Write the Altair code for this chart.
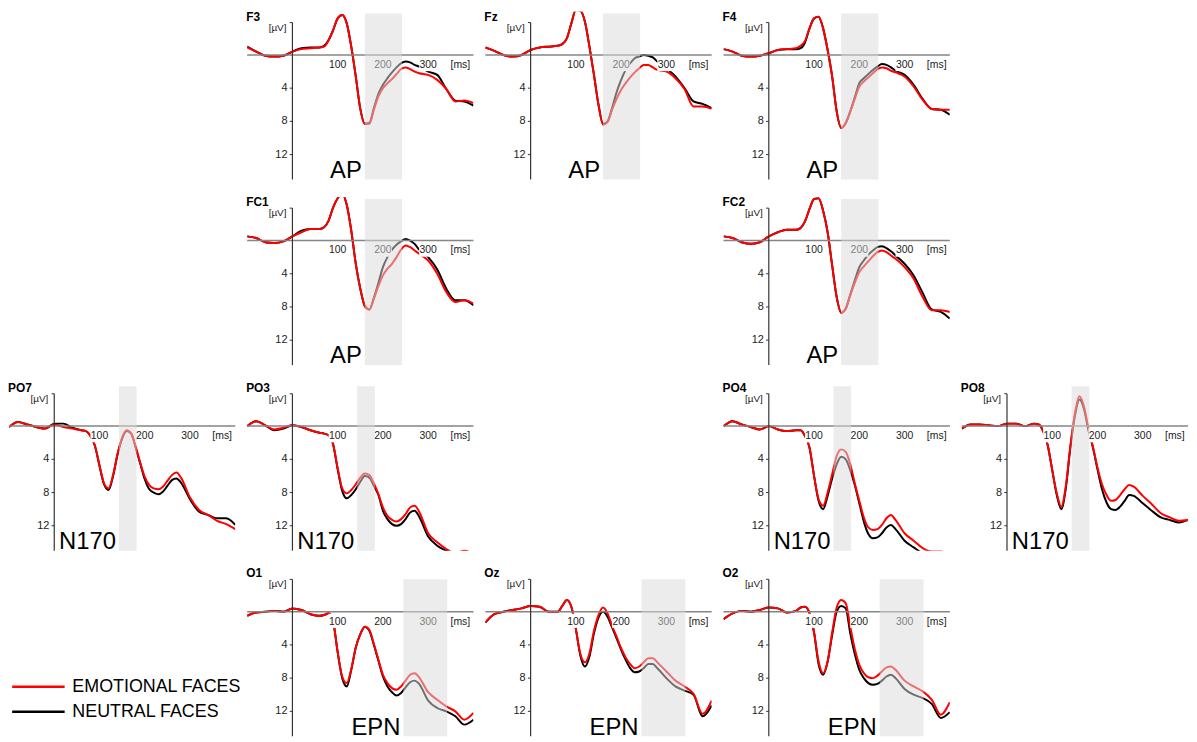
import altair as alt
import pandas as pd

# ---------------- data ----------------
T = [-100, -80, -60, -40, -20, 0, 20, 40, 60, 70, 80, 90, 100, 110, 120, 130, 140, 150,
     160, 170, 180, 190, 200, 210, 220, 230, 240, 250, 260, 270, 280, 300, 320, 340, 360, 380, 400]

F3_neutral = [-1.0, -0.4, 0.1, 0.2, 0.1, -0.4, -0.8, -0.9, -0.9, -1.1, -1.8, -3.0, -4.4, -4.8, -3.8, -1.0, 2.6, 6.5,
              8.3, 8.2, 6.4, 4.7, 3.6, 2.8, 2.1, 1.5, 1.0, 0.8, 0.9, 1.2, 1.4, 2.0, 2.4, 4.1, 5.5, 5.6, 6.1]
F3_emotional = [-0.9, -0.4, 0.1, 0.2, 0.1, -0.4, -0.7, -0.8, -0.9, -1.0, -1.8, -3.0, -4.4, -4.8, -3.8, -1.0, 2.6, 6.5,
                8.3, 8.3, 6.6, 5.0, 4.0, 3.4, 2.9, 2.3, 1.7, 1.5, 1.7, 2.0, 2.2, 2.4, 3.0, 4.1, 5.6, 5.5, 5.8]

Fz_neutral = [-0.9, -0.5, 0.0, 0.2, 0.0, -0.6, -0.9, -1.0, -1.1, -1.3, -2.0, -3.8, -5.4, -5.3, -4.0, -1.0, 2.4, 6.0,
              8.3, 8.0, 6.4, 4.5, 3.0, 1.8, 1.0, 0.4, 0.2, 0.0, 0.1, 0.3, 0.8, 1.6, 2.6, 4.0, 5.6, 5.9, 6.4]
Fz_emotional = [-0.9, -0.5, 0.0, 0.2, 0.0, -0.6, -0.9, -1.0, -1.1, -1.3, -2.0, -3.8, -5.4, -5.3, -4.0, -1.0, 2.4, 6.0,
                8.4, 8.1, 6.6, 5.3, 4.2, 3.4, 2.7, 2.1, 1.6, 1.2, 1.2, 1.5, 1.8, 2.0, 2.8, 4.1, 6.2, 6.2, 6.5]

F4_neutral = [-0.7, -0.4, 0.1, 0.2, 0.1, -0.2, -0.6, -0.7, -0.7, -0.8, -1.5, -3.2, -4.4, -4.6, -3.2, -0.6, 2.6, 6.8,
              8.8, 8.2, 6.8, 5.1, 3.4, 2.8, 2.3, 1.8, 1.4, 1.1, 1.2, 1.5, 1.9, 2.4, 3.6, 5.3, 6.5, 6.6, 7.2]
F4_emotional = [-0.7, -0.4, 0.1, 0.2, 0.1, -0.2, -0.6, -0.7, -0.8, -1.1, -1.7, -3.2, -4.4, -4.6, -3.2, -0.6, 2.6, 6.8,
                8.8, 8.2, 6.8, 5.3, 3.8, 3.2, 2.7, 2.2, 1.7, 1.5, 1.6, 1.9, 2.1, 2.6, 3.8, 5.4, 6.5, 6.6, 6.6]

FC1_neutral = [-0.5, -0.3, 0.2, 0.3, 0.1, -0.5, -1.2, -1.4, -1.4, -1.6, -2.4, -4.0, -5.1, -5.6, -4.3, -1.2, 2.8, 5.8,
               7.9, 8.3, 6.9, 5.1, 3.2, 2.0, 1.1, 0.5, 0.1, -0.2, 0.0, 0.4, 1.1, 2.0, 3.5, 5.8, 7.2, 7.2, 7.8]
FC1_emotional = [-0.5, -0.3, 0.2, 0.3, 0.1, -0.5, -1.0, -1.4, -1.4, -1.6, -2.4, -4.0, -5.1, -5.6, -4.3, -1.2, 2.8, 5.8,
                 7.9, 8.3, 7.0, 5.5, 4.2, 3.4, 2.8, 2.0, 1.1, 0.6, 0.8, 1.2, 1.6, 2.4, 4.0, 6.2, 7.4, 7.2, 7.6]

FC2_neutral = [-0.5, -0.3, 0.2, 0.4, 0.2, -0.5, -1.0, -1.3, -1.3, -1.5, -2.3, -3.8, -5.0, -5.1, -3.6, -1.0, 3.0, 6.8,
               8.7, 8.2, 6.5, 4.8, 3.2, 2.4, 1.7, 1.2, 0.8, 0.7, 0.9, 1.3, 1.8, 2.8, 4.2, 6.3, 8.3, 8.6, 9.4]
FC2_emotional = [-0.5, -0.3, 0.2, 0.4, 0.2, -0.5, -1.0, -1.3, -1.3, -1.5, -2.3, -3.8, -5.0, -5.1, -3.6, -1.0, 3.0, 6.8,
                 8.7, 8.2, 6.6, 5.1, 3.8, 3.1, 2.5, 1.9, 1.4, 1.2, 1.4, 1.8, 2.2, 3.2, 4.6, 6.8, 8.4, 8.4, 8.6]

PO7_neutral = [0.1, -0.5, -0.2, 0.1, 0.3, -0.3, -0.3, 0.2, 0.5, 0.6, 1.2, 2.4, 4.8, 7.0, 7.7, 6.0, 3.4, 1.5,
               0.6, 0.9, 2.6, 4.5, 6.4, 7.6, 8.0, 8.2, 7.9, 7.2, 6.5, 6.3, 6.8, 8.8, 10.3, 10.7, 11.1, 11.1, 11.9]
PO7_emotional = [0.1, -0.5, -0.2, 0.1, 0.3, -0.2, 0.1, 0.3, 0.5, 0.6, 1.2, 2.4, 4.7, 6.9, 7.5, 5.9, 3.3, 1.4,
                 0.5, 0.9, 2.5, 4.4, 6.1, 7.1, 7.5, 7.6, 7.3, 6.6, 5.9, 5.6, 6.2, 8.6, 10.1, 10.7, 11.4, 11.8, 12.4]

PO3_neutral = [0.0, -0.6, -0.1, 0.5, 0.3, -0.1, 0.1, 0.5, 0.8, 0.9, 1.1, 2.2, 5.2, 7.8, 8.7, 8.3, 7.6, 6.7,
               6.0, 6.2, 7.2, 8.3, 10.2, 11.2, 11.8, 12.0, 11.8, 11.2, 10.4, 10.2, 10.9, 13.3, 14.4, 15.0, 15.5, 15.5, 15.5]
PO3_emotional = [0.0, -0.6, -0.1, 0.4, 0.2, -0.1, 0.1, 0.5, 0.8, 0.9, 1.1, 2.2, 5.1, 7.5, 8.1, 7.7, 7.0, 6.2,
                 5.7, 5.9, 6.9, 8.2, 9.8, 10.8, 11.3, 11.5, 11.2, 10.6, 9.8, 9.6, 10.3, 12.9, 14.0, 14.8, 15.3, 15.0, 15.4]

PO4_neutral = [0.0, -0.6, -0.2, 0.1, 0.4, 0.0, 0.4, 0.6, 0.5, 0.5, 1.2, 2.6, 6.0, 9.0, 10.0, 8.4, 6.3, 4.6,
               3.7, 4.0, 5.3, 7.1, 9.3, 11.5, 13.0, 13.5, 13.4, 12.9, 12.2, 11.9, 12.4, 13.8, 14.6, 15.3, 15.6, 15.6, 15.6]
PO4_emotional = [0.0, -0.6, -0.2, 0.1, 0.4, 0.0, 0.4, 0.6, 0.5, 0.5, 1.2, 2.6, 6.0, 8.8, 9.6, 8.0, 5.8, 3.6,
                 2.8, 3.1, 4.6, 6.9, 9.0, 11.0, 12.2, 12.5, 12.4, 11.9, 11.1, 10.7, 11.3, 12.9, 13.8, 14.7, 15.1, 15.1, 15.4]

PO8_neutral = [0.3, -0.2, -0.2, -0.1, 0.0, -0.3, -0.3, 0.0, -0.3, -0.2, 0.6, 2.3, 5.3, 8.3, 10.0, 7.5, 2.6, -1.2,
               -3.2, -2.1, 0.5, 2.6, 5.2, 7.6, 9.2, 10.0, 10.1, 9.7, 9.0, 8.3, 8.4, 9.3, 10.2, 11.0, 11.3, 11.6, 11.3]
PO8_emotional = [0.3, -0.2, -0.2, -0.1, 0.0, -0.3, -0.3, 0.0, -0.3, -0.2, 0.6, 2.3, 5.3, 8.1, 9.7, 7.2, 2.4, -1.5,
                 -3.6, -2.4, 0.3, 2.5, 5.0, 7.0, 8.3, 9.0, 8.9, 8.3, 7.6, 7.1, 7.3, 8.4, 9.4, 10.5, 11.0, 11.4, 11.3]

O1_neutral = [0.5, 0.1, 0.0, -0.1, 0.0, -0.4, -0.2, 0.3, 0.5, 0.4, 0.2, 1.2, 4.9, 8.0, 9.0, 7.0, 4.3, 2.7,
              1.8, 2.3, 4.0, 5.9, 7.8, 9.0, 9.7, 10.1, 9.8, 9.1, 8.5, 8.3, 8.7, 10.7, 11.6, 12.0, 12.6, 13.6, 13.0]
O1_emotional = [0.5, 0.1, 0.0, -0.1, 0.0, -0.4, -0.2, 0.3, 0.5, 0.4, 0.2, 1.2, 4.9, 7.8, 8.6, 6.9, 4.3, 2.7,
                1.8, 2.2, 3.9, 5.8, 7.6, 8.6, 9.2, 9.4, 9.0, 8.3, 7.6, 7.4, 7.9, 9.7, 10.6, 11.4, 12.0, 13.0, 12.2]

Oz_neutral = [1.3, 0.3, 0.0, -0.2, -0.4, -0.7, -0.6, 0.0, 0.0, -0.7, -1.4, -0.6, 2.1, 5.3, 6.6, 5.4, 2.6, 0.7,
              0.0, 0.6, 1.9, 3.2, 4.6, 5.8, 6.8, 7.3, 7.2, 6.8, 6.3, 6.3, 6.8, 8.0, 9.0, 9.5, 10.0, 12.6, 11.3]
Oz_emotional = [1.3, 0.3, 0.0, -0.2, -0.4, -0.7, -0.6, 0.0, 0.0, -0.7, -1.4, -0.6, 2.1, 5.1, 6.1, 5.0, 2.3, 0.4,
                -0.5, 0.2, 1.7, 3.0, 4.4, 5.5, 6.3, 6.8, 6.6, 6.1, 5.6, 5.6, 6.1, 7.2, 8.3, 9.0, 9.9, 12.3, 10.7]

O2_neutral = [0.9, 0.2, -0.1, 0.0, -0.2, -0.5, -0.4, 0.1, -0.1, -0.5, -0.6, 0.2, 2.5, 6.3, 7.6, 6.0, 2.8, 0.0,
              -0.7, -0.4, 2.6, 5.1, 7.0, 8.0, 8.6, 8.8, 8.7, 8.3, 7.8, 7.6, 8.0, 9.3, 10.0, 10.4, 11.1, 12.8, 12.1]
O2_emotional = [0.9, 0.2, -0.1, 0.0, -0.2, -0.5, -0.4, 0.1, -0.1, -0.5, -0.6, 0.2, 2.5, 6.0, 7.4, 6.0, 2.5, -0.5,
                -1.4, -1.0, 1.8, 4.5, 6.4, 7.4, 7.9, 8.0, 7.7, 7.2, 6.7, 6.6, 7.0, 8.3, 9.0, 9.6, 10.6, 12.4, 10.9]

# analysis windows (ms) and the component names
WINDOWS = {"AP": (160, 242), "N170": (143, 182), "EPN": (245, 342)}
WINDOW_TOP = {"AP": -5.0, "N170": -4.8, "EPN": -3.9}

X_TICKS = [100, 200, 300]
Y_TICKS = [4, 8, 12]
CONDITIONS = ["EMOTIONAL FACES", "NEUTRAL FACES"]
COLORS = ["#ff0000", "#000000"]

X_DOMAIN = [-100, 400]
Y_DOMAIN = [-5.2, 15]

PANELS = {
    "F3": (F3_neutral, F3_emotional, "AP"),
    "Fz": (Fz_neutral, Fz_emotional, "AP"),
    "F4": (F4_neutral, F4_emotional, "AP"),
    "FC1": (FC1_neutral, FC1_emotional, "AP"),
    "FC2": (FC2_neutral, FC2_emotional, "AP"),
    "PO7": (PO7_neutral, PO7_emotional, "N170"),
    "PO3": (PO3_neutral, PO3_emotional, "N170"),
    "PO4": (PO4_neutral, PO4_emotional, "N170"),
    "PO8": (PO8_neutral, PO8_emotional, "N170"),
    "O1": (O1_neutral, O1_emotional, "EPN"),
    "Oz": (Oz_neutral, Oz_emotional, "EPN"),
    "O2": (O2_neutral, O2_emotional, "EPN"),
}

GRID = [
    [None, "F3", "Fz", "F4", None],
    [None, "FC1", None, "FC2", None],
    ["PO7", "PO3", None, "PO4", "PO8"],
    ["LEGEND", "O1", "Oz", "O2", None],
]

# ---------------- chart building ----------------
W, H = 228, 169
FONT = "Liberation Sans, Arial, Helvetica, sans-serif"

XS = alt.Scale(domain=X_DOMAIN, nice=False, zero=False)
YS = alt.Scale(domain=Y_DOMAIN, nice=False, zero=False, reverse=True)
CS = alt.Scale(domain=CONDITIONS, range=COLORS)


def xe(f):
    return alt.X(f"{f}:Q", scale=XS, axis=None)


def ye(f):
    return alt.Y(f"{f}:Q", scale=YS, axis=None)


def panel(name):
    neu, emo, comp = PANELS[name]
    w0, w1 = WINDOWS[comp]

    df_n = pd.DataFrame({"t": T, "v": neu, "cond": CONDITIONS[1]})
    df_e = pd.DataFrame({"t": T, "v": emo, "cond": CONDITIONS[0]})

    def line(df):
        return alt.Chart(df).mark_line(strokeWidth=2, clip=True, interpolate="monotone").encode(
            x=xe("t"), y=ye("v"), color=alt.Color("cond:N", scale=CS, legend=None))

    boxes = alt.Chart(pd.DataFrame({
        "x0": [t - 20 for t in X_TICKS], "x1": [t + 20 for t in X_TICKS],
        "y0": [0.25] * len(X_TICKS), "y1": [1.95] * len(X_TICKS)})
    ).mark_rect(fill="white").encode(x=xe("x0"), x2="x1:Q", y=ye("y0"), y2="y1:Q")

    xaxis = alt.Chart(pd.DataFrame({"x0": [X_DOMAIN[0]], "x1": [X_DOMAIN[1]], "y": [0]})).mark_rule(
        color="#858585", strokeWidth=1.5).encode(x=xe("x0"), x2="x1:Q", y=ye("y"))
    yaxis = alt.Chart(pd.DataFrame({"x": [0], "y0": [-3.9], "y1": [Y_DOMAIN[1]]})).mark_rule(
        color="#333333", strokeWidth=1.2).encode(x=xe("x"), y=ye("y0"), y2="y1:Q")
    yt = [-3.9] + Y_TICKS
    yticks = alt.Chart(pd.DataFrame({"x0": [-6] * len(yt), "x1": [0] * len(yt), "y": yt})).mark_rule(
        color="#333333", strokeWidth=1).encode(x=xe("x0"), x2="x1:Q", y=ye("y"))

    xlab = alt.Chart(pd.DataFrame({"t": X_TICKS + [371], "v": [0] * 4,
                                   "s": [str(t) for t in X_TICKS] + ["[ms]"]})).mark_text(
        align="center", baseline="middle", dy=10, fontSize=10.5, font=FONT, color="#222222").encode(
        x=xe("t"), y=ye("v"), text="s:N")
    ylab = alt.Chart(pd.DataFrame({"t": [0] * len(Y_TICKS), "v": Y_TICKS,
                                   "s": [str(v) for v in Y_TICKS]})).mark_text(
        align="right", baseline="middle", dx=-5, fontSize=11, font=FONT, color="#222222").encode(
        x=xe("t"), y=ye("v"), text="s:N")
    unit = alt.Chart(pd.DataFrame({"t": [0], "v": [-3.3], "s": ["[µV]"]})).mark_text(
        align="right", baseline="middle", dx=-6, fontSize=10, font=FONT, color="#222222").encode(
        x=xe("t"), y=ye("v"), text="s:N")

    shade = alt.Chart(pd.DataFrame({"x0": [w0], "x1": [w1], "y0": [WINDOW_TOP[comp]],
                                    "y1": [Y_DOMAIN[1]]})).mark_rect(
        fill="#dadada", opacity=0.51).encode(x=xe("x0"), x2="x1:Q", y=ye("y0"), y2="y1:Q")

    complabel = alt.Chart(pd.DataFrame({"t": [w0], "v": [14.8], "s": [comp]})).mark_text(
        align="right", baseline="alphabetic", dx=-3, fontSize=24, font=FONT, color="#000000").encode(
        x=xe("t"), y=ye("v"), text="s:N")
    title = alt.Chart(pd.DataFrame({"t": [X_DOMAIN[0]], "v": [Y_DOMAIN[0]], "s": [name]})).mark_text(
        align="left", baseline="top", dx=-1, fontSize=12, fontWeight="bold", font=FONT,
        color="#000000").encode(x=xe("t"), y=ye("v"), text="s:N")

    return alt.layer(line(df_n), line(df_e), boxes, xaxis, yaxis, yticks, xlab, ylab, unit,
                     shade, complabel, title).properties(width=W, height=H)


def blank():
    return alt.Chart(pd.DataFrame({"t": [0], "v": [0]})).mark_point(opacity=0).encode(
        x=xe("t"), y=ye("v")).properties(width=W, height=H)


def legend_panel():
    ldf = pd.DataFrame({"cond": CONDITIONS, "x0": [-93, -93], "x1": [23, 23],
                        "y": [9.05, 12.05], "tx": [40, 40]})
    lines = alt.Chart(ldf).mark_rule(strokeWidth=2.5).encode(
        x=xe("x0"), x2="x1:Q", y=ye("y"), color=alt.Color("cond:N", scale=CS, legend=None))
    texts = alt.Chart(ldf).mark_text(align="left", baseline="middle", fontSize=18, font=FONT,
                                     color="#000000").encode(x=xe("tx"), y=ye("y"), text="cond:N")
    return alt.layer(lines, texts).properties(width=W, height=H)


cells = []
for row in GRID:
    for cell in row:
        if cell is None:
            cells.append(blank())
        elif cell == "LEGEND":
            cells.append(legend_panel())
        else:
            cells.append(panel(cell))

chart = alt.concat(*cells, columns=5, spacing={"row": 18, "column": 12}, bounds="flush").properties(
    padding={"left": 0, "top": 0, "right": 0, "bottom": 0}
).configure_view(stroke=None)

chart.save("out.html", embed_options={"renderer": "svg", "actions": False})
